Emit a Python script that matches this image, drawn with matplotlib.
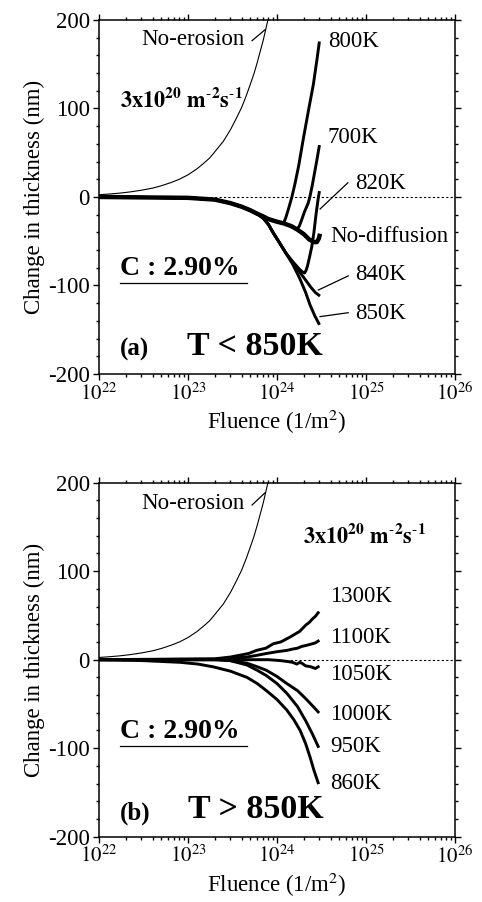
import matplotlib
matplotlib.use("Agg")
import matplotlib.pyplot as plt
from matplotlib.ticker import LogLocator, MultipleLocator, NullFormatter
from matplotlib.lines import Line2D

plt.rcParams['font.family'] = ['Liberation Serif', 'DejaVu Serif']
plt.rcParams['mathtext.fontset'] = 'stix'
plt.rcParams['axes.unicode_minus'] = False

# ---------------- data ----------------
xtick_vals = [1e22, 1e23, 1e24, 1e25, 1e26]
xtick_labels = ['$10^{22}$', '$10^{23}$', '$10^{24}$', '$10^{25}$', '$10^{26}$']
ytick_vals = [-200, -100, 0, 100, 200]
ytick_labels = ['-200', '-100', '0', '100', '200']

# No-erosion curve (both panels)
f_noero = [1e22, 1.3e22, 1.7e22, 2.2e22, 3e22, 4e22, 5e22, 6.5e22, 8e22, 1e23, 1.25e23, 1.5e23,
           1.75e23, 2e23, 2.5e23, 3e23, 3.5e23, 4e23, 4.5e23, 5e23, 5.5e23, 6e23, 6.5e23,
           7e23, 7.5e23, 7.9e23]
t_noero = [2.5, 3.3, 4.3, 5.6, 7.6, 10, 12.6, 16.4, 20, 25, 31.5, 38, 44, 51, 63, 76, 89, 101,
           114, 127, 139, 152, 165, 177, 190, 200]

# Panel (a): T < 850K
f_nodiff = [1e22, 3e22, 1e23, 2e23, 3e23, 4e23, 5e23, 6e23, 7e23, 8e23, 1e24, 1.2e24, 1.45e24,
            1.7e24, 2e24, 2.3e24, 2.6e24, 2.8e24, 2.95e24, 3e24]
t_nodiff = [0, -0.5, -1, -3, -7, -11, -15, -19, -22, -25, -28, -30, -33, -37, -42, -48, -51,
            -51, -47, -44]

f_800 = [1e22, 3e22, 1e23, 2e23, 3e23, 4e23, 5e23, 6e23, 7e23, 8e23, 1e24, 1.18e24, 1.25e24,
         1.35e24, 1.47e24, 1.6e24, 1.75e24, 1.97e24, 2.25e24, 2.56e24, 2.8e24, 2.98e24]
t_800 = [0, -0.5, -1, -3, -7, -11, -15, -19, -22, -25, -28, -30, -24, -13, 0, 16, 35, 65, 97,
         127, 154, 174]

f_700 = [1e22, 3e22, 1e23, 2e23, 3e23, 4e23, 5e23, 6e23, 7e23, 8e23, 1e24, 1.2e24, 1.45e24,
         1.66e24, 1.78e24, 1.89e24, 2.05e24, 2.24e24, 2.34e24, 2.5e24, 2.65e24, 2.82e24, 2.98e24]
t_700 = [0, -0.5, -1, -3, -7, -11, -15, -19, -22, -25, -28, -30, -33, -37, -33, -26, -16, -7,
         0, 14, 28, 43, 57]

f_820 = [1e22, 3e22, 1e23, 2e23, 3e23, 4e23, 5e23, 6e23, 7e23, 8e23, 9e23, 1.07e24, 1.25e24,
         1.5e24, 1.8e24, 1.95e24, 2.04e24, 2.12e24, 2.2e24, 2.32e24, 2.46e24, 2.6e24, 2.75e24,
         2.9e24, 2.98e24]
t_820 = [0, -0.5, -1, -3, -7, -11, -15, -19, -24, -31, -40, -52, -63, -73, -82, -85, -86, -83,
         -78, -68, -56, -40, -19, -2, 5]

f_840 = [1e22, 3e22, 1e23, 2e23, 3e23, 4e23, 5e23, 6e23, 7e23, 8e23, 9e23, 1.07e24, 1.25e24,
         1.5e24, 1.8e24, 2.1e24, 2.4e24, 2.7e24, 2.95e24]
t_840 = [0, -0.5, -1, -3, -7, -11, -15, -19, -24, -31, -40, -52, -63, -74, -85, -94, -102,
         -108, -111]

f_850 = [1e22, 3e22, 1e23, 2e23, 3e23, 4e23, 5e23, 6e23, 7e23, 8e23, 9e23, 1.07e24, 1.25e24,
         1.5e24, 1.8e24, 2.1e24, 2.35e24, 2.65e24, 2.95e24]
t_850 = [0, -0.5, -1, -3, -7, -11, -15, -19, -24, -31, -40, -52, -63, -76, -92, -108, -122,
         -134, -143]

# Panel (b): T > 850K
f_860 = [1e22, 3e22, 8.2e22, 1.3e23, 1.9e23, 3e23, 4.6e23, 6e23, 7.6e23, 1e24, 1.29e24,
         1.55e24, 1.82e24, 2.1e24, 2.35e24, 2.6e24, 2.9e24]
t_860 = [0, -1, -3, -5, -8, -13, -20, -27, -35, -45, -57, -68, -80, -95, -110, -125, -139]

f_950 = [1e22, 1e23, 2.2e23, 2.95e23, 4.6e23, 6e23, 7.6e23, 1e24, 1.29e24, 1.7e24, 2.1e24,
         2.5e24, 2.9e24]
t_950 = [0, 0, 0, -1, -6, -12, -18, -27, -38, -53, -69, -84, -98]

f_1000 = [1e22, 2e23, 3e23, 4.6e23, 6e23, 7.6e23, 1e24, 1.29e24, 1.7e24, 2.1e24, 2.5e24,
          2.9e24]
t_1000 = [0, 0, -1, -4, -8, -12, -19, -27, -35, -44, -52, -59]

f_1050 = [1e22, 3e23, 5.9e23, 8e23, 1.08e24, 1.3e24, 1.5e24, 1.67e24, 1.8e24, 1.9e24, 2.1e24,
          2.4e24, 2.7e24, 2.9e24]
t_1050 = [0, 0, 0, 0, -1, -2, -3, -5, -3, -4, -7, -8, -10, -8]

f_1100 = [1e22, 2e23, 3e23, 4.6e23, 6e23, 7.6e23, 1e24, 1.29e24, 1.5e24, 1.7e24, 1.9e24,
          2.1e24, 2.3e24, 2.5e24, 2.7e24, 2.9e24]
t_1100 = [0, 0.5, 1.5, 3, 5, 7, 9, 10.5, 12, 13, 15, 16, 17, 18, 19, 21]

f_1300 = [1e22, 2e23, 3e23, 3.8e23, 4.8e23, 5.9e23, 7.5e23, 9.1e23, 1.1e24, 1.4e24, 1.6e24,
          1.8e24, 2.1e24, 2.3e24, 2.5e24, 2.7e24, 2.9e24]
t_1300 = [0, 1, 3, 5, 7, 10.5, 13, 18, 20, 25.5, 29, 32, 39, 42, 46, 49, 53]

# ---------------- figure ----------------
fig = plt.figure(figsize=(4.82, 9.02), dpi=100)
ax_a = fig.add_axes([0.2054, 0.5854, 0.7386, 0.3925])
ax_b = fig.add_axes([0.2054, 0.0724, 0.7386, 0.3925])

TK = 16.5
THICK = 2.1


def style_axes(ax):
    ax.set_xscale('log')
    ax.set_xlim(1e22, 1e26)
    ax.set_ylim(-200, 200)
    ax.set_xticks(xtick_vals)
    ax.set_xticklabels(xtick_labels, fontsize=15)
    ax.xaxis.set_minor_locator(LogLocator(base=10, subs=range(2, 10), numticks=20))
    ax.xaxis.set_minor_formatter(NullFormatter())
    ax.set_yticks(ytick_vals)
    ax.set_yticklabels(ytick_labels, fontsize=TK)
    ax.yaxis.set_minor_locator(MultipleLocator(20))
    ax.tick_params(which='both', direction='out', top=True, right=True, width=1.0)
    ax.tick_params(which='major', length=4.5, pad=2)
    ax.tick_params(which='minor', length=2.5)
    for s in ax.spines.values():
        s.set_linewidth(1.1)
    ax.set_xlabel('Fluence (1/m$^2$)', fontsize=TK, labelpad=2)
    ax.set_ylabel('Change in thickness (nm)', fontsize=TK, labelpad=2)
    ax.axhline(0, color='black', lw=0.8, ls=(0, (2, 2)))
    ax.plot(f_noero, t_noero, color='black', lw=0.8)


def leader(ax, p0, p1):
    ax.add_line(Line2D([p0[0], p1[0]], [p0[1], p1[1]], transform=ax.transAxes,
                       color='black', lw=0.9))


style_axes(ax_a)
style_axes(ax_b)

# panel (a)
for f, t in [(f_800, t_800), (f_700, t_700), (f_820, t_820), (f_840, t_840), (f_850, t_850)]:
    ax_a.plot(f, t, color='black', lw=THICK)
ax_a.plot(f_nodiff, t_nodiff, color='black', lw=3.2)

ta = ax_a.transAxes
ax_a.text(0.41, 0.9435, 'No-erosion', transform=ta, fontsize=TK, ha='right', va='center')
leader(ax_a, (0.430, 0.9415), (0.466, 0.972))
ax_a.text(0.059, 0.774, r'$\mathbf{3x10^{20}\ m^{\text{-}2}s^{\text{-}1}}$', transform=ta,
          fontsize=16, ha='left', va='center')
ax_a.text(0.643, 0.938, '800K', transform=ta, fontsize=TK, ha='left', va='center')
ax_a.text(0.643, 0.669, '700K', transform=ta, fontsize=TK, ha='left', va='center')
ax_a.text(0.719, 0.537, '820K', transform=ta, fontsize=TK, ha='left', va='center')
leader(ax_a, (0.621, 0.466), (0.699, 0.540))
ax_a.text(0.649, 0.388, 'No-diffusion', transform=ta, fontsize=TK, ha='left', va='center')
ax_a.text(0.719, 0.280, '840K', transform=ta, fontsize=TK, ha='left', va='center')
leader(ax_a, (0.616, 0.237), (0.700, 0.277))
ax_a.text(0.719, 0.172, '850K', transform=ta, fontsize=TK, ha='left', va='center')
leader(ax_a, (0.621, 0.162), (0.700, 0.173))
ax_a.text(0.059, 0.299, 'C : 2.90%', transform=ta, fontsize=20, fontweight='bold',
          ha='left', va='center')
leader(ax_a, (0.059, 0.256), (0.416, 0.256))
ax_a.text(0.059, 0.068, '(a)', transform=ta, fontsize=18, fontweight='bold',
          ha='left', va='center')
ax_a.text(0.247, 0.079, 'T < 850K', transform=ta, fontsize=24.5, fontweight='bold',
          ha='left', va='center')

# panel (b)
for f, t in [(f_860, t_860), (f_950, t_950), (f_1000, t_1000), (f_1050, t_1050),
             (f_1100, t_1100), (f_1300, t_1300)]:
    ax_b.plot(f, t, color='black', lw=THICK)

tb = ax_b.transAxes
ax_b.text(0.41, 0.9425, 'No-erosion', transform=tb, fontsize=TK, ha='right', va='center')
leader(ax_b, (0.430, 0.937), (0.466, 0.971))
ax_b.text(0.573, 0.849, r'$\mathbf{3x10^{20}\ m^{\text{-}2}s^{\text{-}1}}$', transform=tb,
          fontsize=16, ha='left', va='center')
ax_b.text(0.649, 0.678, '1300K', transform=tb, fontsize=TK, ha='left', va='center')
ax_b.text(0.649, 0.563, '1100K', transform=tb, fontsize=TK, ha='left', va='center')
ax_b.text(0.649, 0.457, '1050K', transform=tb, fontsize=TK, ha='left', va='center')
ax_b.text(0.649, 0.344, '1000K', transform=tb, fontsize=TK, ha='left', va='center')
ax_b.text(0.649, 0.254, '950K', transform=tb, fontsize=TK, ha='left', va='center')
ax_b.text(0.649, 0.151, '860K', transform=tb, fontsize=TK, ha='left', va='center')
ax_b.text(0.059, 0.297, 'C : 2.90%', transform=tb, fontsize=20, fontweight='bold',
          ha='left', va='center')
leader(ax_b, (0.059, 0.257), (0.416, 0.257))
ax_b.text(0.059, 0.067, '(b)', transform=tb, fontsize=18, fontweight='bold',
          ha='left', va='center')
ax_b.text(0.25, 0.078, 'T > 850K', transform=tb, fontsize=24.5, fontweight='bold',
          ha='left', va='center')

fig.savefig('out.png', dpi=100)
